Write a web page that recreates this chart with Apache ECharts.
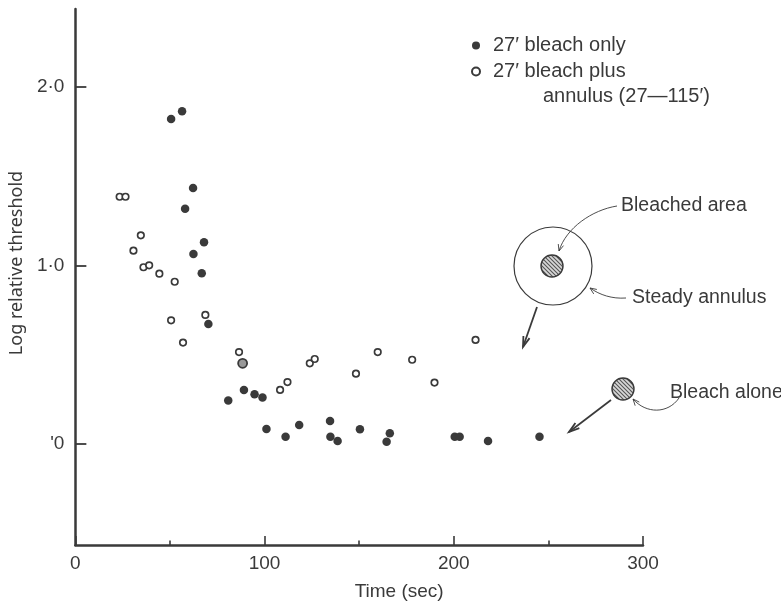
<!DOCTYPE html>
<html><head><meta charset="utf-8">
<script src="https://cdn.jsdelivr.net/npm/echarts@6/dist/echarts.min.js"></script>
<style>html,body{margin:0;padding:0;background:#fff}#c{width:781px;height:606px}</style>
</head><body><div id="c"></div>
<script>
// ---- data ----
const bleachOnly = [
  [50.6,1.821],[56.4,1.864],[62.2,1.434],[58.0,1.318],[68.0,1.130],[62.4,1.064],
  [66.8,0.956],[70.3,0.672],[80.8,0.243],[89.1,0.303],[94.7,0.278],[98.9,0.260],
  [101.0,0.084],[111.1,0.041],[118.3,0.106],[134.6,0.129],[134.8,0.041],[138.6,0.017],
  [150.4,0.082],[164.5,0.013],[166.2,0.060],[200.5,0.041],[203.1,0.041],[218.1,0.017],
  [245.3,0.041]
];
const bleachPlusAnnulus = [
  [23.4,1.385],[26.5,1.385],[34.6,1.169],[30.7,1.083],[36.0,0.990],[39.0,1.001],
  [44.4,0.954],[52.5,0.909],[50.6,0.693],[68.7,0.723],[56.9,0.568],[86.5,0.515],
  [108.2,0.303],[112.1,0.347],[123.9,0.452],[126.5,0.476],[148.3,0.394],[159.8,0.515],
  [178.0,0.472],[189.8,0.344],[211.5,0.583]
];
const coincident = [[88.4,0.452]];
const xTickValues = [0,100,200,300];
const yTickValues = [0,1,2];
const yTickLabels = ["'0","1·0","2·0"];
const seriesNames = ['27′ bleach only','27′ bleach plus'];

const ink = '#3a3a3a';
const FONT = 'Liberation Sans';

function hatchCanvas(){
  const c=document.createElement('canvas');c.width=4;c.height=4;
  const g=c.getContext('2d');
  g.fillStyle='#d8d8d8';g.fillRect(0,0,4,4);
  g.strokeStyle='#555';g.lineWidth=1.1;
  g.beginPath();
  g.moveTo(-1,-1);g.lineTo(5,5);
  g.moveTo(-1,3);g.lineTo(1,5);
  g.moveTo(3,-1);g.lineTo(5,1);
  g.stroke();
  return c;
}
const hatch = {image: hatchCanvas(), repeat:'repeat'};

function arrowHead(x,y,angle,len,spread,lw){
  const a1=angle+Math.PI-spread, a2=angle+Math.PI+spread;
  return {type:'polyline',z:10,shape:{points:[[x+len*Math.cos(a1),y+len*Math.sin(a1)],[x,y],[x+len*Math.cos(a2),y+len*Math.sin(a2)]]},
    style:{stroke:ink,lineWidth:lw,fill:null}};
}
function curveArrow(p0,c1,c2,p1,lw,hl){
  const ang=Math.atan2(p1[1]-c2[1],p1[0]-c2[0]);
  return [
    {type:'bezierCurve',z:10,shape:{x1:p0[0],y1:p0[1],cpx1:c1[0],cpy1:c1[1],cpx2:c2[0],cpy2:c2[1],x2:p1[0],y2:p1[1]},style:{stroke:ink,lineWidth:lw,fill:null}},
    arrowHead(p1[0],p1[1],ang,hl,0.4,lw)
  ];
}
function straightArrow(p0,p1,lw,hl){
  const ang=Math.atan2(p1[1]-p0[1],p1[0]-p0[0]);
  return [
    {type:'line',z:10,shape:{x1:p0[0],y1:p0[1],x2:p1[0],y2:p1[1]},style:{stroke:ink,lineWidth:lw}},
    arrowHead(p1[0],p1[1],ang,hl,0.3,lw)
  ];
}
function label(text,x,y,size){
  return {type:'text',z:10,x:x,y:y,style:{text:text,fill:ink,font:size+'px "'+FONT+'"',verticalAlign:'middle',align:'left'}};
}

const graphics = [].concat(
  [
    {type:'circle',z:10,shape:{cx:553,cy:266,r:39},style:{stroke:ink,lineWidth:1.2,fill:null}},
    {type:'circle',z:10,shape:{cx:552,cy:266,r:11},style:{stroke:ink,lineWidth:1.4,fill:hatch}},
    {type:'circle',z:10,shape:{cx:623,cy:389,r:11},style:{stroke:ink,lineWidth:1.4,fill:hatch}},
    label('Bleached area',621,206,19.5),
    label('Steady annulus',632,298,19.5),
    label('Bleach alone',670,393,19.5),
    label('annulus (27—115′)',543,96,20)
  ],
  curveArrow([617,206],[592,210],[566,228],[559,251],0.9,7),
  curveArrow([626,298],[612,299],[600,295],[590,288],0.9,7),
  curveArrow([679,398],[668,414],[646,414],[633,399],0.9,7),
  straightArrow([537,307],[523,347],1.8,11),
  straightArrow([611,400],[569,432],1.8,11)
);

const chart = echarts.init(document.getElementById('c'));
chart.setOption({
  backgroundColor:'#fff',
  animation:false,
  textStyle:{fontFamily:FONT,color:ink},
  grid:{left:74,right:138,top:9,bottom:61,containLabel:false},
  legend:{
    orient:'vertical',left:466,top:30,itemWidth:8,itemHeight:8,itemGap:5,
    data:seriesNames,
    textStyle:{fontSize:20,color:ink,fontFamily:FONT,lineHeight:21,padding:[0,0,0,8]}
  },
  xAxis:{
    type:'value',min:0,max:300,interval:100,
    name:'Time (sec)',nameLocation:'middle',nameGap:37,
    nameTextStyle:{fontSize:19,color:ink,fontFamily:FONT,padding:[0,0,0,80]},
    axisLine:{onZero:false,lineStyle:{color:ink,width:2.5}},
    axisTick:{inside:true,length:9,lineStyle:{color:ink,width:1.6}},
    minorTick:{show:true,splitNumber:2,length:4.5,lineStyle:{color:ink,width:1.6}},
    axisLabel:{fontSize:19,color:ink,margin:9,customValues:xTickValues},
    splitLine:{show:false}
  },
  yAxis:{
    type:'value',min:-0.566,max:2.437,
    name:'Log relative threshold',nameLocation:'middle',nameGap:46,
    nameTextStyle:{fontSize:18,color:ink,fontFamily:'Noto Sans',padding:[0,0,0,28]},
    axisLine:{onZero:false,lineStyle:{color:ink,width:2.5}},
    axisTick:{inside:true,length:11,customValues:yTickValues,lineStyle:{color:ink,width:1.8}},
    axisLabel:{fontSize:19,color:ink,margin:11,customValues:yTickValues,
      formatter:function(v){const i=yTickValues.indexOf(Math.round(v));return i>=0?yTickLabels[i]:'';}},
    splitLine:{show:false}
  },
  series:[
    {name:seriesNames[0],type:'scatter',data:bleachOnly,symbol:'circle',symbolSize:8.5,
      itemStyle:{color:ink,opacity:1}},
    {name:seriesNames[1],type:'scatter',data:bleachPlusAnnulus,symbol:'circle',symbolSize:6.5,
      itemStyle:{color:'#fff',borderColor:ink,borderWidth:1.7,opacity:1}},
    {name:'coincident',type:'scatter',data:coincident,symbol:'circle',symbolSize:9,
      itemStyle:{color:'#999',borderColor:ink,borderWidth:1.8,opacity:1}}
  ],
  graphic:graphics
});
</script>
</body></html>
